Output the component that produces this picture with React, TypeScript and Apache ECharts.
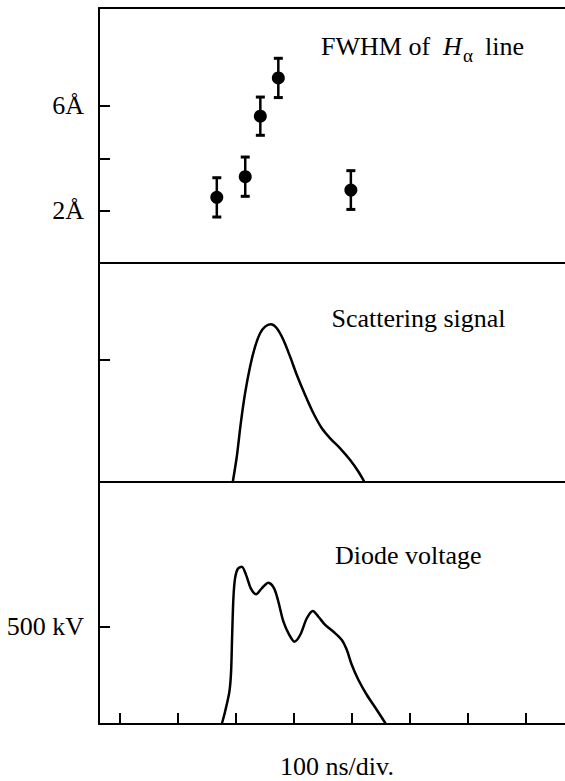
import React, { useEffect, useRef } from "react";
import * as echarts from "echarts";

// Time axis (ns); ticks every 100 ns
const X_MIN = 65;
const X_MAX = 868;
const TIME_TICKS = [100, 200, 300, 400, 500, 600, 700, 800];

// Top panel: FWHM of H-alpha line (Å)
const FWHM_T = [268, 317, 343, 374, 499];
const FWHM_VAL = [2.51, 3.3, 5.61, 7.07, 2.79];
const FWHM_ERR = [0.75, 0.75, 0.73, 0.75, 0.74];
const FWHM_TICKS = [2, 4, 6];
const FWHM_LABELS = [2, 6];

// Middle panel: scattering signal (arb. units)
const SCAT_T = [295.5, 302.4, 309.3, 316.7, 325.3, 334, 342.6, 351.2, 361, 371.4, 382.8, 394.3, 405.9, 420.2, 434.5, 449, 463.3, 480.5, 497.8, 512.1, 522.4];
const SCAT_V = [0, 0.207, 0.481, 0.727, 0.945, 1.109, 1.219, 1.273, 1.293, 1.26, 1.164, 1.027, 0.877, 0.713, 0.563, 0.44, 0.358, 0.276, 0.18, 0.084, 0];
const SCAT_TICKS = [1];

// Bottom panel: diode voltage (kV)
const DIODE_T = [276.6, 282.2, 289.7, 292.6, 294.3, 296.6, 299.5, 304.1, 311, 318.4, 326.6, 335.7, 345.5, 356.9, 366.7, 374.1, 382.8, 393.1, 401.7, 411.6, 423.1, 433.4, 443.1, 454.7, 469, 483.4, 492.1, 500.7, 512.1, 526.6, 543.8, 559.3];
const DIODE_V = [0, 63, 166, 269, 440, 646, 749, 797, 808, 766, 697, 667, 697, 726, 697, 628, 526, 457, 423, 457, 543, 581, 551, 509, 474, 432, 380, 303, 226, 149, 72, 0];
const DIODE_TICKS = [500];

const FONT = "'Liberation Serif', 'DejaVu Serif', 'Times New Roman', serif";
const FS = 26;

export default function App() {
  const ref = useRef<HTMLDivElement>(null);

  useEffect(() => {
    if (!ref.current) return;
    const chart = echarts.init(ref.current, null, { renderer: "svg" });

    const axisLine = { show: true, lineStyle: { color: "#000", width: 2 } };
    const noTick = { show: false };
    const noLabel = { show: false };
    const noSplit = { show: false };

    const baseX = (gridIndex: number, extra: any = {}) => ({
      type: "value",
      gridIndex,
      min: X_MIN,
      max: X_MAX,
      axisLine,
      axisTick: noTick,
      axisLabel: noLabel,
      splitLine: noSplit,
      ...extra,
    });

    const errData = FWHM_T.map((t, i) => [t, FWHM_VAL[i] - FWHM_ERR[i], FWHM_VAL[i] + FWHM_ERR[i]]);

    const ttl = (text: string, left: number, top: number, extra: any = {}) => ({
      text,
      left,
      top,
      padding: 0,
      textStyle: {
        fontFamily: FONT,
        fontSize: FS,
        fontWeight: "normal",
        color: "#000",
        lineHeight: FS,
        ...extra,
      },
    });

    chart.setOption({
      animation: false,
      backgroundColor: "#fff",
      textStyle: { fontFamily: FONT },
      title: [
        ttl("FWHM of", 321, 33),
        ttl("H", 443, 33, { fontStyle: "italic" }),
        ttl("α", 463, 46, { fontSize: 19, lineHeight: 19 }),
        ttl("line", 485, 33),
        ttl("Scattering signal", 331.5, 305),
        ttl("Diode voltage", 335, 542),
        ttl("100 ns/div.", 280, 753),
      ],
      grid: [
        { left: 99, right: 0, top: 8, height: 258 },
        { left: 99, right: 0, top: 266, height: 216 },
        { left: 99, right: 0, top: 482, height: 242 },
      ],
      xAxis: [
        baseX(0),
        baseX(0, { position: "top" }),
        baseX(1),
        baseX(2, {
          axisTick: {
            show: true,
            inside: true,
            length: 11,
            customValues: TIME_TICKS,
            lineStyle: { color: "#000", width: 2 },
          },
        }),
      ],
      yAxis: [
        {
          type: "value",
          gridIndex: 0,
          min: -0.11,
          max: 9.74,
          axisLine,
          axisTick: { show: true, inside: true, length: 11, customValues: FWHM_TICKS, lineStyle: { color: "#000", width: 2 } },
          axisLabel: {
            show: true,
            customValues: FWHM_LABELS,
            formatter: (v: number) => v + "Å",
            fontFamily: FONT,
            fontSize: FS,
            color: "#000",
            margin: 15,
          },
          splitLine: noSplit,
        },
        {
          type: "value",
          gridIndex: 1,
          min: 0,
          max: 1.77,
          axisLine,
          axisTick: { show: true, inside: true, length: 11, customValues: SCAT_TICKS, lineStyle: { color: "#000", width: 2 } },
          axisLabel: noLabel,
          splitLine: noSplit,
        },
        {
          type: "value",
          gridIndex: 2,
          min: 0,
          max: 1243,
          axisLine,
          axisTick: { show: true, inside: true, length: 11, customValues: DIODE_TICKS, lineStyle: { color: "#000", width: 2 } },
          axisLabel: {
            show: true,
            customValues: DIODE_TICKS,
            formatter: (v: number) => v + " kV",
            fontFamily: FONT,
            fontSize: FS,
            color: "#000",
            margin: 15,
          },
          splitLine: noSplit,
        },
      ],
      series: [
        {
          type: "custom",
          xAxisIndex: 0,
          yAxisIndex: 0,
          data: errData,
          renderItem: (params: any, api: any) => {
            const x = api.value(0);
            const lo = api.coord([x, api.value(1)]);
            const hi = api.coord([x, api.value(2)]);
            const cap = 4.5;
            return {
              type: "group",
              children: [
                { type: "line", shape: { x1: lo[0], y1: lo[1], x2: hi[0], y2: hi[1] }, style: { stroke: "#000", lineWidth: 2.5 } },
                { type: "line", shape: { x1: lo[0] - cap, y1: lo[1], x2: lo[0] + cap, y2: lo[1] }, style: { stroke: "#000", lineWidth: 3 } },
                { type: "line", shape: { x1: hi[0] - cap, y1: hi[1], x2: hi[0] + cap, y2: hi[1] }, style: { stroke: "#000", lineWidth: 3 } },
              ],
            };
          },
          z: 2,
        },
        {
          type: "scatter",
          xAxisIndex: 0,
          yAxisIndex: 0,
          data: FWHM_T.map((t, i) => [t, FWHM_VAL[i]]),
          symbol: "circle",
          symbolSize: 13,
          itemStyle: { color: "#000", opacity: 1 },
          z: 3,
        },
        {
          type: "line",
          xAxisIndex: 2,
          yAxisIndex: 1,
          data: SCAT_T.map((t, i) => [t, SCAT_V[i]]),
          showSymbol: false,
          smooth: 0.3,
          lineStyle: { color: "#000", width: 2.5 },
        },
        {
          type: "line",
          xAxisIndex: 3,
          yAxisIndex: 2,
          data: DIODE_T.map((t, i) => [t, DIODE_V[i]]),
          showSymbol: false,
          smooth: 0.3,
          lineStyle: { color: "#000", width: 2.5 },
        },
      ],
    });

    return () => chart.dispose();
  }, []);

  return <div ref={ref} style={{ position: "fixed", left: 0, top: 0, width: 565, height: 781 }} />;
}
